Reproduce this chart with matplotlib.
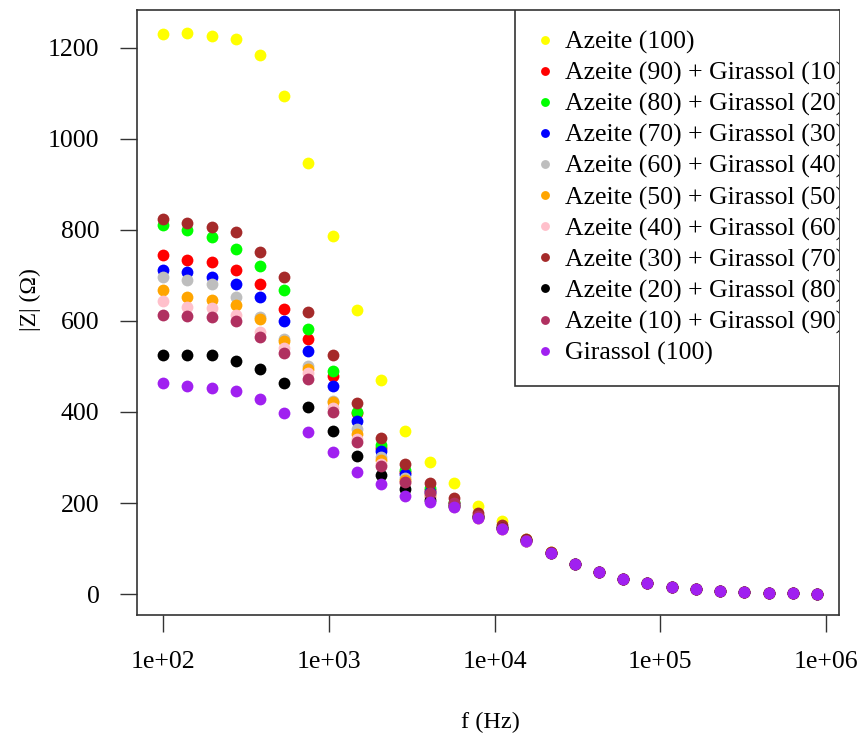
import numpy as np
import matplotlib
matplotlib.use("Agg")
import matplotlib.pyplot as plt
from matplotlib.ticker import NullLocator

plt.rcParams['font.family'] = ['Liberation Serif', 'DejaVu Serif']

# frequencies (Hz)
freq = [100, 140, 196, 274, 384, 538, 753, 1054, 1476, 2066, 2893, 4050,
        5669, 7937, 11112, 15557, 21780, 30491, 42688, 59763, 83668, 117136,
        163990, 229586, 321420, 449988, 629983, 881976]

azeite_100 = [1231, 1233, 1226, 1220, 1185, 1095, 947, 787, 624, 470, 358, 291,
              245, 193, 160, 122, 92, 67, 49, 34, 24, 16, 11, 7, 5, 3, 2, 0]
az90_gi10 = [745, 734, 730, 712, 681, 627, 560, 478, 397, 320, 268, 228,
             200, 171, 146, 117, 91, 66, 48, 34, 24, 16, 11, 7, 5, 3, 2, 0]
az80_gi20 = [811, 799, 785, 758, 721, 667, 582, 490, 401, 327, 272, 232,
             203, 172, 147, 118, 91, 67, 49, 34, 24, 16, 11, 7, 5, 3, 2, 0]
az70_gi30 = [712, 708, 697, 681, 652, 599, 535, 458, 380, 314, 264, 224,
             198, 170, 145, 117, 90, 66, 48, 33, 24, 16, 11, 7, 5, 3, 2, 0]
az60_gi40 = [697, 690, 681, 652, 608, 560, 500, 425, 362, 300, 255, 220,
             196, 169, 145, 117, 90, 66, 48, 33, 24, 16, 11, 7, 5, 3, 2, 0]
az50_gi50 = [668, 652, 646, 635, 604, 555, 494, 421, 352, 294, 250, 216,
             193, 168, 144, 116, 90, 66, 48, 33, 24, 16, 11, 7, 5, 3, 2, 0]
az40_gi60 = [643, 630, 628, 612, 575, 540, 485, 408, 340, 285, 245, 213,
             192, 168, 144, 116, 90, 66, 48, 33, 24, 16, 11, 7, 5, 3, 2, 0]
az30_gi70 = [823, 816, 806, 795, 752, 696, 620, 525, 420, 342, 285, 243,
             210, 177, 152, 120, 92, 67, 49, 34, 25, 16, 11, 7, 5, 3, 2, 0]
az20_gi80 = [525, 525, 525, 512, 494, 464, 411, 359, 304, 262, 231, 207,
             194, 170, 145, 118, 91, 67, 49, 34, 25, 16, 11, 7, 5, 3, 2, 0]
az10_gi90 = [613, 611, 608, 600, 565, 529, 472, 401, 333, 281, 247, 221,
             200, 172, 146, 118, 91, 67, 49, 34, 25, 16, 11, 7, 5, 3, 2, 0]
girassol_100 = [464, 457, 453, 446, 429, 398, 357, 312, 269, 241, 215, 202,
                191, 167, 143, 116, 90, 66, 48, 32, 24, 16, 11, 7, 5, 3, 2, 0]

labels = ['Azeite (100)',
          'Azeite (90) + Girassol (10)',
          'Azeite (80) + Girassol (20)',
          'Azeite (70) + Girassol (30)',
          'Azeite (60) + Girassol (40)',
          'Azeite (50) + Girassol (50)',
          'Azeite (40) + Girassol (60)',
          'Azeite (30) + Girassol (70)',
          'Azeite (20) + Girassol (80)',
          'Azeite (10) + Girassol (90)',
          'Girassol (100)']
colors = ['#FFFF00', '#FF0000', '#00FF00', '#0000FF', '#BEBEBE', '#FFA500',
          '#FFC0CB', '#A52A2A', '#000000', '#B03060', '#A020F0']
series = [azeite_100, az90_gi10, az80_gi20, az70_gi30, az60_gi40, az50_gi50,
          az40_gi60, az30_gi70, az20_gi80, az10_gi90, girassol_100]

xticks = [1e2, 1e3, 1e4, 1e5, 1e6]
xtick_labels = ['1e+02', '1e+03', '1e+04', '1e+05', '1e+06']
yticks = [0, 200, 400, 600, 800, 1000, 1200]

W, H = 862, 740
fig = plt.figure(figsize=(W / 100, H / 100), dpi=100)
ax = fig.add_axes([137 / W, 1 - 615 / H, (839 - 137) / W, (615 - 10) / H])

for vals, col, lab in zip(series, colors, labels):
    ax.plot(freq, vals, 'o', color=col, markersize=8.5, markeredgewidth=0,
            label=lab)

ax.set_xscale('log')
ax.set_xlim(69.6, 1.197e6)
ax.set_ylim(-46, 1283)
ax.xaxis.set_minor_locator(NullLocator())
ax.set_xticks(xticks)
ax.set_xticklabels(xtick_labels)
ax.set_yticks(yticks)

ax.tick_params(axis='both', direction='out', length=12, width=1,
               labelsize=18.5, color='#333333')
ax.tick_params(axis='y', pad=15)
ax.tick_params(axis='x', pad=14)
for sp in ax.spines.values():
    sp.set_linewidth(1.2)
    sp.set_color('#333333')

fig.text(490 / W, 1 - 722 / H, 'f (Hz)', fontsize=17.5, ha='center', va='center')
fig.text(30 / W, 1 - 300 / H, '|Z| (\u03a9)', fontsize=17, rotation=90,
         ha='center', va='center')

leg = ax.legend(loc='upper left', bbox_to_anchor=(515 / W, 1 - 10 / H),
                bbox_transform=fig.transFigure, borderaxespad=0,
                fontsize=18.5, frameon=True, fancybox=False, framealpha=1,
                edgecolor='#333333', markerscale=0.75, handlelength=0.7,
                handletextpad=0.45, labelspacing=0.30, borderpad=0.8)
leg.get_frame().set_linewidth(1.2)
# R clips the legend at the plot region
for a in leg.findobj():
    a.set_clip_on(True)
    a.set_clip_box(ax.bbox)

fig.savefig('out.png', dpi=100)
